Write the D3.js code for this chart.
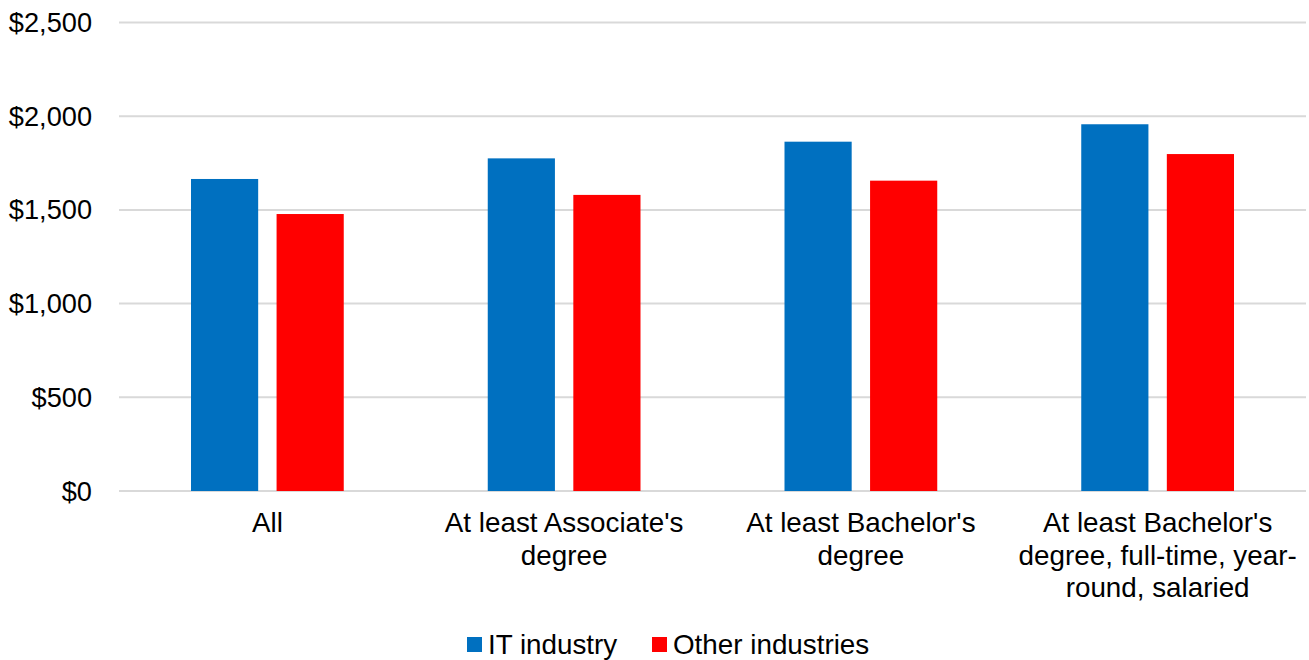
<!DOCTYPE html>
<html>
<head>
<meta charset="utf-8">
<script src="https://cdn.jsdelivr.net/npm/d3@7"></script>
<style>
  body { margin: 0; background: #fff; }
  text { font-family: "Liberation Sans", Arial, sans-serif; fill: #000; }
</style>
</head>
<body>
<svg id="chart" width="1309" height="660"></svg>
<script>
var categories = ["All", "At least Associate's\ndegree", "At least Bachelor's\ndegree",
    "At least Bachelor's\ndegree, full-time, year-\nround, salaried"];
var seriesNames = ["IT industry", "Other industries"];
var itValues = [1665, 1775, 1864, 1957];
var otherValues = [1478, 1580, 1656, 1798];
var yTicks = [0, 500, 1000, 1500, 2000, 2500];
var colors = ["#0070c0", "#ff0000"];

var width = 1309, height = 660;
var margin = { left: 119, right: 3, top: 22.5, bottom: 169 };
var fontSize = 27.8;

var svg = d3.select("svg#chart");

var x0 = d3.scaleBand()
    .domain(categories)
    .range([margin.left, width - margin.right])
    .paddingInner(0)
    .paddingOuter(0);

var x1 = d3.scaleBand()
    .domain(seriesNames)
    .range([72, x0.bandwidth() - 72])
    .paddingInner(0.215);

var y = d3.scaleLinear()
    .domain([0, 2500])
    .range([height - margin.bottom, margin.top]);

// gridlines
svg.append("g")
    .selectAll("line")
    .data(yTicks)
    .enter()
    .append("line")
    .attr("x1", margin.left)
    .attr("x2", width - margin.right)
    .attr("y1", d => y(d))
    .attr("y2", d => y(d))
    .attr("stroke", "#d9d9d9")
    .attr("stroke-width", 2);

// y axis labels
svg.append("g")
    .selectAll("text")
    .data(yTicks)
    .enter()
    .append("text")
    .attr("x", 92)
    .attr("y", d => y(d))
    .attr("dy", "0.35em")
    .style("text-anchor", "end")
    .style("font-size", "27.2px")
    .text(d => "$" + d3.format(",")(d));

// bars
var rows = categories.map((c, i) => ({ cat: c, values: [itValues[i], otherValues[i]] }));

var groups = svg.append("g")
    .selectAll("g")
    .data(rows)
    .enter()
    .append("g")
    .attr("transform", d => "translate(" + x0(d.cat) + ",0)");

groups.selectAll("rect")
    .data(d => d.values.map((v, j) => ({ name: seriesNames[j], value: v, color: colors[j] })))
    .enter()
    .append("rect")
    .attr("x", d => x1(d.name))
    .attr("width", x1.bandwidth())
    .attr("y", d => y(d.value))
    .attr("height", d => y(0) - y(d.value))
    .attr("fill", d => d.color);

// category labels
var catLabels = svg.append("g")
    .selectAll("text")
    .data(categories)
    .enter()
    .append("text")
    .attr("x", d => x0(d) + x0.bandwidth() / 2)
    .attr("y", 532)
    .style("text-anchor", "middle")
    .style("font-size", fontSize + "px");

catLabels.selectAll("tspan")
    .data(d => d.split("\n"))
    .enter()
    .append("tspan")
    .attr("x", function() { return d3.select(this.parentNode).attr("x"); })
    .attr("dy", (d, i) => i == 0 ? 0 : 32.5)
    .text(d => d);

// legend
var legendX = [467, 652];
var legend = svg.append("g")
    .selectAll("g")
    .data(seriesNames)
    .enter()
    .append("g")
    .attr("transform", (d, i) => "translate(" + legendX[i] + ",637)");

legend.append("rect")
    .attr("width", 15)
    .attr("height", 15)
    .attr("fill", (d, i) => colors[i]);

legend.append("text")
    .attr("x", 21)
    .attr("y", 7.5)
    .attr("dy", "0.35em")
    .style("font-size", fontSize + "px")
    .text(d => d);
</script>
</body>
</html>
